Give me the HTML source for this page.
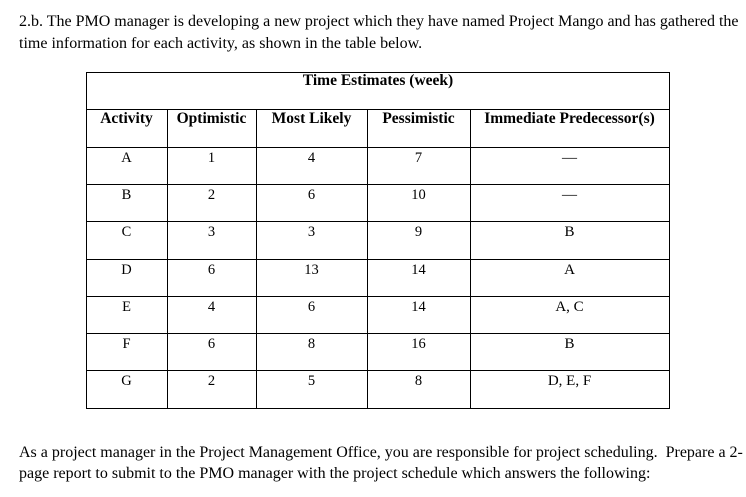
<!DOCTYPE html>
<html><head><meta charset="utf-8"><style>
body{margin:0;width:746px;height:497px;background:#fff;font-family:"Liberation Serif",serif;color:#000;position:relative;overflow:hidden}
.t{position:absolute;left:19px;font-size:16px;white-space:nowrap}
.c{position:absolute;font-size:14.5px;text-align:center;white-space:nowrap}
.b{font-weight:bold;font-size:15.5px}
.h{position:absolute;background:#000;height:1px}
.v{position:absolute;background:#000;width:1px}
</style></head><body>
<div class="t" style="top:13px">2.b. The PMO manager is developing a new project which they have named Project Mango and has gathered the</div>
<div class="t" style="top:35px">time information for each activity, as shown in the table below.</div>
<div class="t" style="top:444px">As a project manager in the Project Management Office, you are responsible for project scheduling.&nbsp; Prepare a 2-</div>
<div class="t" style="top:465px">page report to submit to the PMO manager with the project schedule which answers the following:</div>
<div id="g"></div>
<script>
var g=document.getElementById('g'),h='';
var top0=72,rh=37.3,cols=[86,167,256,367,470,669];
for(var i=0;i<=9;i++){var y=Math.round(top0+rh*i);h+='<div class="h" style="top:'+y+'px;left:86px;width:584px"></div>';}
h+='<div class="v" style="left:86px;top:72px;height:337px"></div><div class="v" style="left:669px;top:72px;height:337px"></div>';
for(var j=1;j<5;j++)h+='<div class="v" style="left:'+cols[j]+'px;top:109px;height:300px"></div>';
h+='<div class="c b" style="left:86px;width:584px;top:72px">Time Estimates (week)</div>';
var hd=['Activity','Optimistic','Most Likely','Pessimistic','Immediate Predecessor(s)'];
for(var j=0;j<5;j++)h+='<div class="c b" style="left:'+cols[j]+'px;width:'+(cols[j+1]-cols[j])+'px;top:'+(top0+rh+1)+'px">'+hd[j]+'</div>';
var d=[['A',1,4,7,'—'],['B',2,6,10,'—'],['C',3,3,9,'B'],['D',6,13,14,'A'],['E',4,6,14,'A, C'],['F',6,8,16,'B'],['G',2,5,8,'D, E, F']];
for(var i=0;i<7;i++)for(var j=0;j<5;j++){var fs=j==4?'font-size:15px;':'';h+='<div class="c" style="'+fs+'left:'+cols[j]+'px;width:'+(cols[j+1]-cols[j])+'px;top:'+Math.round(top0+rh*(i+2)+3)+'px">'+d[i][j]+'</div>';}
g.innerHTML=h;
</script>
</body></html>
